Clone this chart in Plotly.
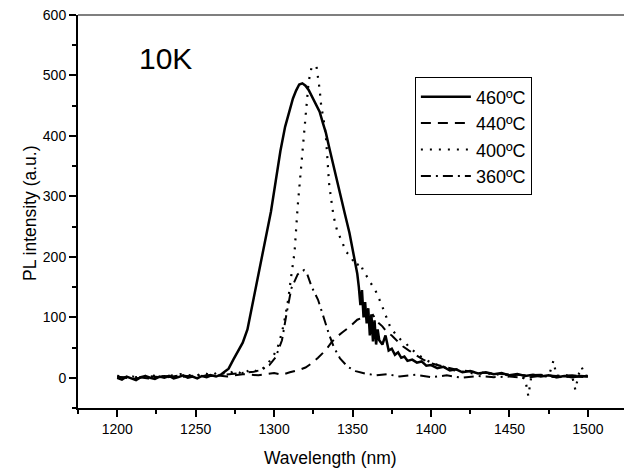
import plotly.graph_objects as go

# ---------------- data ----------------
x_460 = [1200, 1203, 1206, 1209, 1212, 1215, 1218, 1221, 1224, 1227, 1230, 1233, 1236, 1239, 1242,
         1245, 1248, 1251, 1254, 1257, 1260, 1263, 1266, 1268, 1271, 1274, 1277, 1280, 1283, 1286,
         1289, 1292, 1295, 1298, 1301, 1304, 1307, 1310, 1312, 1314, 1316, 1318, 1320, 1322, 1324,
         1326, 1329, 1331, 1333, 1335, 1337, 1340, 1342, 1345, 1348, 1350, 1351, 1353, 1354, 1355,
         1356, 1357, 1358, 1359, 1360, 1361, 1362, 1363, 1364, 1365, 1366, 1367, 1369, 1371, 1373,
         1375, 1377, 1379, 1381, 1383, 1385, 1388, 1391, 1394, 1397, 1400, 1404, 1408, 1412, 1416,
         1420, 1425, 1430, 1435, 1440, 1445, 1450, 1455, 1460, 1465, 1470, 1475, 1480, 1485, 1490,
         1495, 1500]
y_460 = [0, -3, 2, -1, -4, 1, 3, 0, -2, 2, 0, 3, -1, 1, 4,
         0, 2, -1, 3, 1, 4, 2, 5, 9, 15, 30, 45, 58, 80, 120,
         160, 195, 235, 275, 325, 375, 415, 445, 462, 475, 485, 487, 483, 476, 466,
         456, 440, 422, 405, 382, 360, 323, 300, 272, 240, 215, 200, 172, 150, 120,
         145, 100, 125, 90, 115, 70, 105, 60, 95, 55, 80, 62, 55, 70, 45,
         48, 38, 42, 33, 35, 28, 30, 25, 27, 20, 21, 16, 18, 12, 14,
         9, 11, 7, 9, 6, 8, 4, 6, 3, 5, 2, 4, 1, 3, 1,
         3, 2]

x_440 = [1200, 1210, 1220, 1230, 1240, 1250, 1260, 1270, 1280, 1290, 1300, 1305, 1310, 1316, 1320,
         1324, 1328, 1333, 1337, 1340, 1344, 1348, 1353, 1357, 1360, 1363, 1366, 1369, 1372, 1375,
         1378, 1382, 1386, 1390, 1395, 1400, 1405, 1410, 1415, 1420, 1430, 1440, 1450, 1460, 1470,
         1480, 1490, 1500]
y_440 = [2, -2, 3, 0, 4, 1, 5, 2, 6, 4, 8, 5, 9, 13, 17,
         24, 33, 46, 60, 68, 76, 84, 96, 100, 98, 104, 92, 85, 75, 70,
         62, 52, 45, 38, 30, 24, 20, 17, 14, 12, 9, 7, 6, 4, 5,
         3, 4, 2]

x_400 = [1200, 1210, 1220, 1230, 1240, 1250, 1255, 1260, 1265, 1270, 1275, 1280, 1285, 1290, 1295,
         1299, 1302, 1305, 1307, 1309, 1311, 1313, 1315, 1317, 1319, 1321, 1322, 1324, 1327, 1329,
         1330, 1332, 1333, 1334, 1335, 1337, 1338, 1340, 1343, 1346, 1349, 1352, 1355, 1357, 1359,
         1361, 1363, 1365, 1368, 1371, 1374, 1378, 1381, 1384, 1387, 1390, 1395, 1400, 1405, 1410,
         1415, 1420, 1425, 1430, 1435, 1440, 1445, 1450, 1455, 1460, 1462, 1464, 1470, 1475, 1478,
         1480, 1485, 1490, 1492, 1494, 1496, 1498, 1500]
y_400 = [3, 0, 4, 2, 6, 3, 8, 4, 10, 5, 12, 6, 14, 10, 20,
         34, 48, 75, 100, 130, 170, 207, 283, 344, 399, 455, 490, 515, 515, 477,
         450, 420, 399, 361, 322, 283, 266, 245, 225, 208, 200, 185, 190, 175, 168,
         160, 150, 142, 124, 105, 84, 70, 62, 57, 48, 42, 32, 25, 20, 16,
         12, 10, 8, 6, 9, 4, 7, 3, 5, -2, -30, 3, 4, 2, 28,
         3, 5, 2, -20, 5, 18, 4, 3]

x_360 = [1200, 1210, 1220, 1230, 1240, 1250, 1260, 1270, 1280, 1287, 1292, 1297, 1301, 1305, 1308,
         1311, 1315, 1319, 1321, 1324, 1328, 1332, 1335, 1338, 1342, 1347, 1352, 1358, 1365, 1372,
         1380, 1390, 1400, 1410, 1420, 1430, 1440, 1450, 1460, 1470, 1480, 1490, 1500]
y_360 = [0, 2, -1, 3, 1, 4, 3, 6, 8, 10, 13, 21, 34, 62, 107,
         148, 171, 178, 172, 150, 129, 96, 72, 51, 32, 18, 11, 7, 4, 6,
         2, 5, 1, 4, 0, 3, 1, 2, 0, 3, 1, 2, 1]

names = ["460ºC", "440ºC", "400ºC", "360ºC"]
x_ticks = [1200, 1250, 1300, 1350, 1400, 1450, 1500]
y_ticks = [0, 100, 200, 300, 400, 500, 600]

FONT = "Liberation Sans, Arial, sans-serif"

fig = go.Figure()
styles = [
    dict(width=2.5, dash="solid"),
    dict(width=2, dash="10px,7px"),
    dict(width=2.2, dash="2px,7px"),
    dict(width=2, dash="10px,5px,2px,5px"),
]
for xs, ys, nm, st in zip([x_460, x_440, x_400, x_360], [y_460, y_440, y_400, y_360], names, styles):
    fig.add_trace(go.Scatter(x=xs, y=ys, mode="lines", name=nm,
                             line=dict(color="black", width=st["width"], dash=st["dash"])))

fig.update_layout(
    width=624, height=470,
    margin=dict(l=78, r=0, t=15, b=62),
    paper_bgcolor="white", plot_bgcolor="white",
    font=dict(family=FONT, color="black", size=14),
    showlegend=True,
    legend=dict(x=0.617, y=0.841, xanchor="left", yanchor="top",
                bgcolor="white", bordercolor="black", borderwidth=1,
                font=dict(size=18, family=FONT), itemwidth=50,
                tracegroupgap=0),
    xaxis=dict(range=[1175, 1523], tickvals=x_ticks, ticks="outside", ticklen=7, tickwidth=1.5,
               tickcolor="black", showline=True, linecolor="black", linewidth=2,
               showgrid=False, zeroline=False,
               minor=dict(dtick=25, tick0=1175, ticks="outside", ticklen=4, tickcolor="black", tickwidth=1.5)),
    yaxis=dict(range=[-50, 600], tickvals=y_ticks, ticks="outside", ticklen=7, tickwidth=1.5,
               tickcolor="black", showline=True, linecolor="black", linewidth=2,
               showgrid=False, zeroline=False,
               minor=dict(dtick=50, tick0=-50, ticks="outside", ticklen=4, tickcolor="black", tickwidth=1.5)),
)

# top frame line
fig.add_shape(type="line", xref="paper", yref="paper", x0=0, x1=1, y0=1, y1=1,
              line=dict(color="#555555", width=1.5))

fig.add_annotation(text="10K", xref="paper", yref="paper",
                   x=(165 - 78) / 546, y=(408 - 58) / 393, showarrow=False,
                   font=dict(size=30, family=FONT), xanchor="center", yanchor="middle")
fig.add_annotation(text="Wavelength (nm)", xref="paper", yref="paper",
                   x=(330 - 78) / 546, y=(408 - 458) / 393, showarrow=False,
                   font=dict(size=17.5, family=FONT), xanchor="center", yanchor="middle")
fig.add_annotation(text="PL intensity (a.u.)", xref="paper", yref="paper",
                   x=(30 - 78) / 546, y=(408 - 213) / 393, showarrow=False, textangle=-90,
                   font=dict(size=17.5, family=FONT), xanchor="center", yanchor="middle")

fig.write_html("out.html", config={"displayModeBar": False},
               post_script="document.body.style.margin='0';document.body.style.overflow='hidden';")
